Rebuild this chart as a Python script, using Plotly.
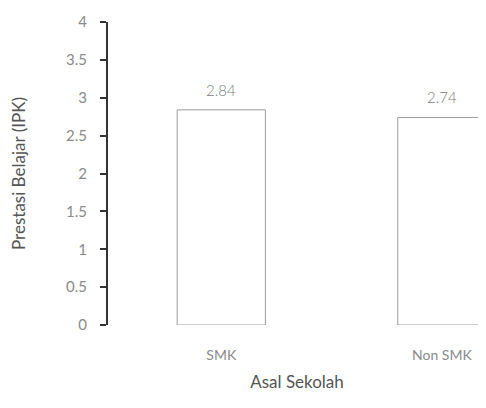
import plotly.graph_objects as go

categories = ["SMK", "Non SMK"]
values = [2.84, 2.74]
value_labels = ["2.84", "2.74"]
y_ticks = [0, 0.5, 1, 1.5, 2, 2.5, 3, 3.5, 4]
y_tick_labels = ["0", "0.5", "1", "1.5", "2", "2.5", "3", "3.5", "4"]

fig = go.Figure()
fig.add_trace(go.Bar(
    x=[0, 1], y=values, width=0.4,
    marker=dict(color="white", line=dict(color="#9a9a9a", width=1)),
    cliponaxis=False,
))
for i, (v, lab) in enumerate(zip(values, value_labels)):
    fig.add_annotation(x=i, y=v, text=lab, showarrow=False, yshift=20,
                       font=dict(family="Lato Light, Lato", size=15, color="#7a7a7a"))
fig.update_layout(
    width=478, height=400,
    margin=dict(l=100, r=0, t=14, b=83, autoexpand=False),
    paper_bgcolor="white", plot_bgcolor="white",
    showlegend=False,
    font=dict(family="Lato"),
)
fig.update_xaxes(
    range=[-0.5136, 1.2], tickvals=[0, 1], ticktext=categories,
    showgrid=False, showline=False, zeroline=False,
    ticks="outside", ticklen=17, tickcolor="white",
    tickfont=dict(size=14, color="#8a8a8a"),
    title=dict(text="Asal Sekolah", font=dict(size=17, color="#555555"), standoff=14),
    automargin=False,
)
fig.update_yaxes(
    range=[0, 4], tickvals=y_ticks, ticktext=y_tick_labels,
    showgrid=False, zeroline=False,
    showline=True, linecolor="#333333", linewidth=2,
    ticks="outside", ticklen=6, tickcolor="#333333", tickwidth=2,
    ticklabelstandoff=10,
    tickfont=dict(size=15, color="#8a8a8a"),
    title=dict(text="Prestasi Belajar (IPK)", font=dict(size=17, color="#555555"), standoff=36),
    automargin=False,
)
fig.write_html("out.html")
